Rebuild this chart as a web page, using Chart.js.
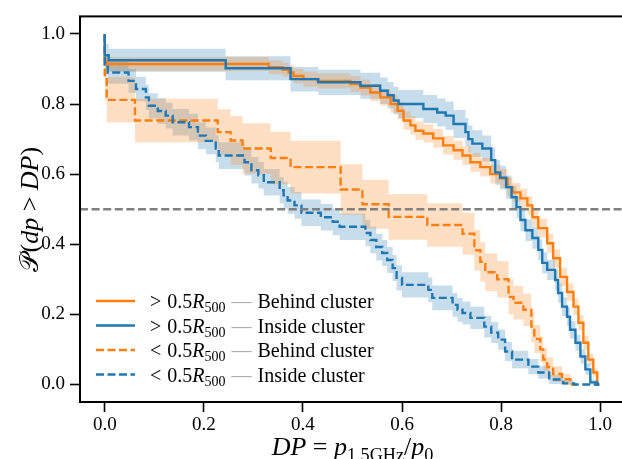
<!DOCTYPE html>
<html><head><meta charset="utf-8">
<script src="https://cdn.jsdelivr.net/npm/chart.js@4.4.0/dist/chart.umd.min.js"></script>
<style>html,body{margin:0;padding:0;overflow:hidden;background:#fff}#wrap{width:630px;height:459px}</style>
</head><body><div id="wrap"><canvas id="c" width="630" height="459"></canvas></div>
<script>
// > 0.5 R500, behind cluster (orange solid)
const osX = [0, 0.004, 0.331, 0.359, 0.371, 0.381, 0.401, 0.429, 0.496, 0.516, 0.536, 0.556, 0.577, 0.591, 0.603, 0.617, 0.627, 0.643, 0.663, 0.683, 0.704, 0.722, 0.738, 0.758, 0.778, 0.798, 0.813, 0.823, 0.839, 0.853, 0.863, 0.875, 0.893, 0.905, 0.919, 0.933, 0.946, 0.956, 0.966, 0.976, 0.986, 0.994, 0.998];
const osY = [1.0, 0.923, 0.914, 0.905, 0.898, 0.89, 0.88, 0.871, 0.866, 0.857, 0.847, 0.833, 0.819, 0.80, 0.781, 0.753, 0.739, 0.724, 0.716, 0.702, 0.682, 0.668, 0.653, 0.634, 0.62, 0.60, 0.588, 0.563, 0.548, 0.531, 0.511, 0.477, 0.446, 0.403, 0.36, 0.307, 0.264, 0.222, 0.176, 0.119, 0.071, 0.034, 0];
const osE = [0, 0.018, 0.02, 0.02, 0.02, 0.021, 0.021, 0.022, 0.022, 0.023, 0.023, 0.024, 0.024, 0.025, 0.025, 0.026, 0.026, 0.026, 0.026, 0.027, 0.027, 0.027, 0.027, 0.027, 0.027, 0.027, 0.027, 0.027, 0.027, 0.027, 0.027, 0.027, 0.027, 0.027, 0.026, 0.026, 0.025, 0.024, 0.022, 0.02, 0.017, 0.012, 0];

// > 0.5 R500, inside cluster (blue solid)
const bsX = [0, 0.008, 0.244, 0.375, 0.431, 0.516, 0.556, 0.571, 0.583, 0.593, 0.643, 0.671, 0.688, 0.704, 0.728, 0.734, 0.742, 0.762, 0.78, 0.788, 0.798, 0.81, 0.821, 0.831, 0.839, 0.849, 0.863, 0.875, 0.883, 0.893, 0.909, 0.915, 0.923, 0.933, 0.939, 0.95, 0.96, 0.97, 0.98, 0.994, 0.998];
const bsY = [1.0, 0.939, 0.925, 0.902, 0.871, 0.862, 0.852, 0.838, 0.825, 0.81, 0.80, 0.786, 0.776, 0.767, 0.743, 0.72, 0.70, 0.687, 0.673, 0.64, 0.605, 0.59, 0.563, 0.534, 0.506, 0.469, 0.44, 0.418, 0.384, 0.347, 0.327, 0.298, 0.261, 0.222, 0.193, 0.156, 0.119, 0.08, 0.043, 0.006, 0];
const bsE = [0, 0.032, 0.033, 0.034, 0.035, 0.036, 0.037, 0.038, 0.038, 0.039, 0.04, 0.04, 0.04, 0.04, 0.04, 0.04, 0.039, 0.038, 0.037, 0.036, 0.035, 0.034, 0.033, 0.033, 0.032, 0.032, 0.031, 0.031, 0.03, 0.03, 0.029, 0.029, 0.028, 0.027, 0.026, 0.025, 0.023, 0.02, 0.016, 0.008, 0];

// < 0.5 R500, behind cluster (orange dashed)
const odX = [0, 0.004, 0.061, 0.228, 0.254, 0.278, 0.335, 0.375, 0.476, 0.52, 0.573, 0.651, 0.722, 0.746, 0.758, 0.768, 0.792, 0.815, 0.825, 0.845, 0.861, 0.867, 0.879, 0.885, 0.893, 0.905, 0.923, 0.94, 0.952];
const odY = [1.0, 0.876, 0.812, 0.753, 0.72, 0.696, 0.673, 0.646, 0.62, 0.556, 0.514, 0.478, 0.455, 0.43, 0.383, 0.35, 0.32, 0.30, 0.25, 0.233, 0.213, 0.165, 0.13, 0.10, 0.071, 0.05, 0.03, 0.015, 0];
const odE = [0, 0.065, 0.065, 0.062, 0.065, 0.07, 0.072, 0.075, 0.075, 0.072, 0.07, 0.065, 0.062, 0.06, 0.058, 0.056, 0.054, 0.052, 0.05, 0.048, 0.046, 0.044, 0.04, 0.036, 0.032, 0.028, 0.022, 0.015, 0];

// < 0.5 R500, inside cluster (blue dashed)
const bdX = [0, 0.006, 0.048, 0.063, 0.083, 0.089, 0.107, 0.123, 0.137, 0.17, 0.188, 0.204, 0.224, 0.23, 0.282, 0.296, 0.31, 0.321, 0.353, 0.361, 0.369, 0.383, 0.397, 0.436, 0.46, 0.474, 0.526, 0.536, 0.548, 0.56, 0.57, 0.581, 0.589, 0.6, 0.653, 0.661, 0.702, 0.712, 0.722, 0.738, 0.766, 0.78, 0.794, 0.808, 0.822, 0.855, 0.875, 0.897, 0.925, 0.947, 0.998];
const bdY = [1.0, 0.912, 0.89, 0.866, 0.843, 0.819, 0.795, 0.78, 0.767, 0.748, 0.734, 0.71, 0.695, 0.673, 0.653, 0.634, 0.611, 0.597, 0.577, 0.554, 0.54, 0.525, 0.511, 0.49, 0.477, 0.464, 0.45, 0.432, 0.412, 0.392, 0.375, 0.355, 0.332, 0.304, 0.284, 0.27, 0.247, 0.227, 0.213, 0.204, 0.19, 0.165, 0.148, 0.128, 0.094, 0.071, 0.051, 0.034, 0.014, 0.003, 0];
const bdE = [0, 0.03, 0.032, 0.034, 0.035, 0.036, 0.036, 0.037, 0.037, 0.038, 0.038, 0.038, 0.038, 0.038, 0.038, 0.038, 0.038, 0.038, 0.038, 0.038, 0.038, 0.038, 0.038, 0.038, 0.038, 0.038, 0.038, 0.038, 0.038, 0.038, 0.037, 0.037, 0.037, 0.036, 0.036, 0.035, 0.035, 0.034, 0.034, 0.033, 0.032, 0.031, 0.03, 0.029, 0.027, 0.025, 0.022, 0.018, 0.013, 0.008, 0];

const xTicks = [0, 0.2, 0.4, 0.6, 0.8, 1.0];
const yTicks = [0, 0.2, 0.4, 0.6, 0.8, 1.0];
const threshold = 0.5;

const ORANGE = '#ff7f0e', BLUE = '#1f77b4';
const SERIF = "'Liberation Serif', 'DejaVu Serif', serif";
const DASH = [8, 3.5];
const LW = 2.4;

function series(xs, ys, es, color, band, dash, lineOrder) {
    const pts = xs.map((x, i) => ({x, y: ys[i]}));
    const up = xs.map((x, i) => ({x, y: Math.min(1, ys[i] + (es[i] || 0))}));
    const lo = xs.map((x, i) => ({x, y: Math.max(0, ys[i] - (es[i] || 0))}));
    return [
        {data: up, stepped: 'after', borderWidth: 0, borderColor: 'transparent', pointRadius: 0, fill: false, order: 100},
        {data: lo, stepped: 'after', borderWidth: 0, borderColor: 'transparent', pointRadius: 0, fill: '-1', backgroundColor: band, order: 100},
        {data: pts, stepped: 'after', borderColor: color, borderWidth: LW, borderDash: dash, pointRadius: 0, fill: false, order: lineOrder}
    ];
}

function rich(ctx, parts, x, y, size, align) {
    const fontOf = p => (p.it ? 'italic ' : '') + (p.sub ? size * 0.7 : size) + 'px ' + SERIF;
    let w = 0;
    parts.forEach(p => { ctx.font = fontOf(p); p.w = ctx.measureText(p.t).width; w += p.w + (p.gap || 0); });
    let cx = align === 'center' ? x - w / 2 : x;
    parts.forEach(p => {
        cx += p.gap || 0;
        ctx.font = fontOf(p);
        ctx.fillStyle = p.col || '#000';
        ctx.fillText(p.t, cx, y + (p.sub ? size * 0.22 : 0));
        cx += p.w;
    });
}

const legendItems = [
    {color: ORANGE, dash: [], sign: '>', word: 'Behind cluster'},
    {color: BLUE, dash: [], sign: '>', word: 'Inside cluster'},
    {color: ORANGE, dash: DASH, sign: '<', word: 'Behind cluster'},
    {color: BLUE, dash: DASH, sign: '<', word: 'Inside cluster'}
];

const decor = {
    id: 'decor',
    afterDraw(chart) {
        const ctx = chart.ctx, a = chart.chartArea;
        ctx.save();
        ctx.strokeStyle = '#000';
        ctx.lineWidth = 2;
        ctx.setLineDash([]);
        ctx.strokeRect(a.left, a.top, a.right - a.left, a.bottom - a.top);

        // legend
        ctx.textBaseline = 'alphabetic';
        legendItems.forEach((it, i) => {
            const yy = 301 + i * 24.5;
            ctx.strokeStyle = it.color;
            ctx.lineWidth = LW;
            ctx.setLineDash(it.dash);
            ctx.beginPath(); ctx.moveTo(96, yy); ctx.lineTo(135, yy); ctx.stroke();
            rich(ctx, [
                {t: it.sign},
                {t: '0.5', gap: 6},
                {t: 'R', it: true},
                {t: '500', sub: true},
                {t: '\u2014', col: '#aaaaaa', gap: 6},
                {t: it.word, gap: 6}
            ], 150, yy + 7, 20, 'left');
        });

        // axis titles
        rich(ctx, [
            {t: 'DP', it: true}, {t: ' = '}, {t: 'p', it: true}, {t: '1.5GHz', sub: true},
            {t: '/'}, {t: 'p', it: true}, {t: '0', sub: true}
        ], (a.left + a.right) / 2, 455, 26, 'center');
        ctx.translate(29, (a.top + a.bottom) / 2);
        ctx.rotate(-Math.PI / 2);
        rich(ctx, [
            {t: '\u{1D4AB}'}, {t: '('}, {t: 'dp', it: true}, {t: ' > '}, {t: 'DP', it: true}, {t: ')'}
        ], 0, 9, 26, 'center');
        ctx.restore();
    }
};

const tickFont = {family: SERIF, size: 19};
const axisCommon = {
    type: 'linear', min: -0.05, max: 1.05,
    grid: {drawOnChartArea: false, drawTicks: true, tickLength: 10, tickWidth: 1.6, tickColor: '#000'},
    border: {display: false},
    ticks: {font: tickFont, color: '#000', callback: v => v.toFixed(1)}
};

new Chart(document.getElementById('c'), {
    type: 'line',
    data: {
        datasets: [
            ...series(osX, osY, osE, ORANGE, 'rgba(255,127,14,0.25)', [], 10),
            ...series(bsX, bsY, bsE, BLUE, 'rgba(31,119,180,0.25)', [], 9),
            ...series(odX, odY, odE, ORANGE, 'rgba(255,127,14,0.25)', DASH, 8),
            ...series(bdX, bdY, bdE, BLUE, 'rgba(31,119,180,0.25)', DASH, 7),
            {data: [{x: -0.05, y: threshold}, {x: 1.05, y: threshold}], borderColor: '#808080',
             borderWidth: LW, borderDash: [8, 3.6], pointRadius: 0, fill: false, order: 6}
        ]
    },
    options: {
        responsive: false,
        animation: false,
        devicePixelRatio: 1,
        layout: {padding: {top: 15, right: 5, left: 0, bottom: 0}},
        plugins: {legend: {display: false}, tooltip: {enabled: false}},
        scales: {
            x: {...axisCommon, ticks: {...axisCommon.ticks, padding: 2},
                afterBuildTicks: s => { s.ticks = xTicks.map(v => ({value: v})); },
                afterFit: s => { s.height = 57; }},
            y: {...axisCommon, ticks: {...axisCommon.ticks, padding: 5},
                afterBuildTicks: s => { s.ticks = yTicks.map(v => ({value: v})); },
                afterFit: s => { s.width = 80; }}
        }
    },
    plugins: [decor]
});
</script></body></html>
